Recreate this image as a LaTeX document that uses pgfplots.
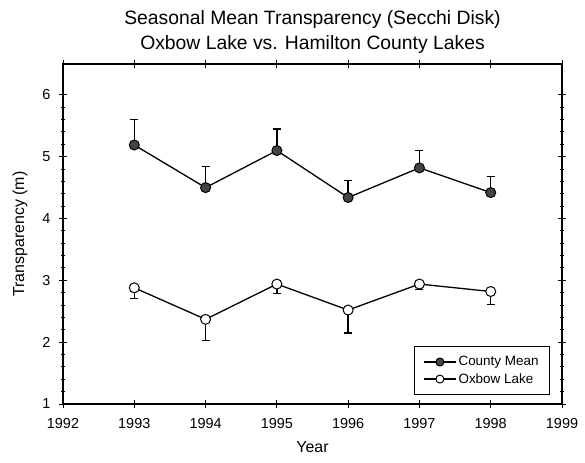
\documentclass[border=0pt]{standalone}
\usepackage{fontspec}
\setmainfont{Liberation Sans}
\usepackage{pgfplots}
\pgfplotsset{compat=1.18}
\definecolor{markgray}{HTML}{444444}
\begin{document}
\begin{tikzpicture}
\begin{axis}[
  scale only axis, width=499bp, height=340bp,
  xmin=1992, xmax=1999, ymin=1, ymax=6.5,
  xtick={1992,1993,...,1999}, ytick={1,2,...,6},
  minor y tick num=4,
  tick align=center,
  major tick length=8bp, minor tick length=4bp,
  axis line style={line width=1.2bp},
  every tick/.style={black, line width=1bp},
  /pgf/number format/assume math mode=true,
  /pgf/number format/1000 sep={},
  ticklabel style={font=\fontsize{14.5}{16}\selectfont},
  xticklabel style={yshift=-7bp},
  yticklabel style={xshift=-5bp},
  xlabel={Year}, ylabel={Transparency (m)},
  every axis x label/.style={at={(rel axis cs:0.5,0)}, anchor=center, yshift=-43bp, font=\fontsize{16}{18}\selectfont},
  every axis y label/.style={at={(rel axis cs:0,0.5)}, anchor=center, xshift=-43bp, rotate=90, font=\fontsize{16}{18}\selectfont},
  title={Seasonal Mean Transparency (Secchi Disk)\\Oxbow Lake vs. Hamilton County Lakes},
  title style={align=center, font=\fontsize{19.4}{25}\selectfont, at={(0.5,1)}, anchor=south, yshift=1bp},
  legend style={at={(0.976,0.026)}, anchor=south east, draw=black, line width=1bp,
    font=\fontsize{13.5}{16}\selectfont, row sep=2bp, inner xsep=9bp, inner ysep=8bp},
  legend cell align=left,
  legend image code/.code={\draw[#1, mark size=4bp, mark repeat=2, mark phase=2] plot coordinates {(0bp,0bp) (16bp,0bp) (32bp,0bp)};},
]
\addplot[black, line width=1.3bp, mark=*, mark size=5bp, mark options={fill=markgray, draw=black, line width=1bp},
  error bars/.cd, y dir=plus, y explicit,
  error bar style={line width=1.3bp, black},
  error mark options={rotate=90, mark size=4bp, line width=1.2bp, black}]
  table[x=x, y=y, y error=e] {
x y e
1993 5.19 0.41
1994 4.50 0.34
1995 5.10 0.35
1996 4.34 0.27
1997 4.82 0.28
1998 4.42 0.26
};
\addlegendentry{County Mean}
\addplot[black, line width=1.3bp, mark=*, mark size=5bp, mark options={fill=white, draw=black, line width=1bp},
  error bars/.cd, y dir=minus, y explicit,
  error bar style={line width=1.3bp, black},
  error mark options={rotate=90, mark size=4bp, line width=1.2bp, black}]
  table[x=x, y=y, y error=e] {
x y e
1993 2.88 0.17
1994 2.37 0.34
1995 2.94 0.15
1996 2.52 0.37
1997 2.94 0.09
1998 2.82 0.21
};
\addlegendentry{Oxbow Lake}
\end{axis}
\pgfresetboundingbox
\path[use as bounding box] (-63bp,-59bp) rectangle (522bp,404bp);
\end{tikzpicture}
\end{document}
